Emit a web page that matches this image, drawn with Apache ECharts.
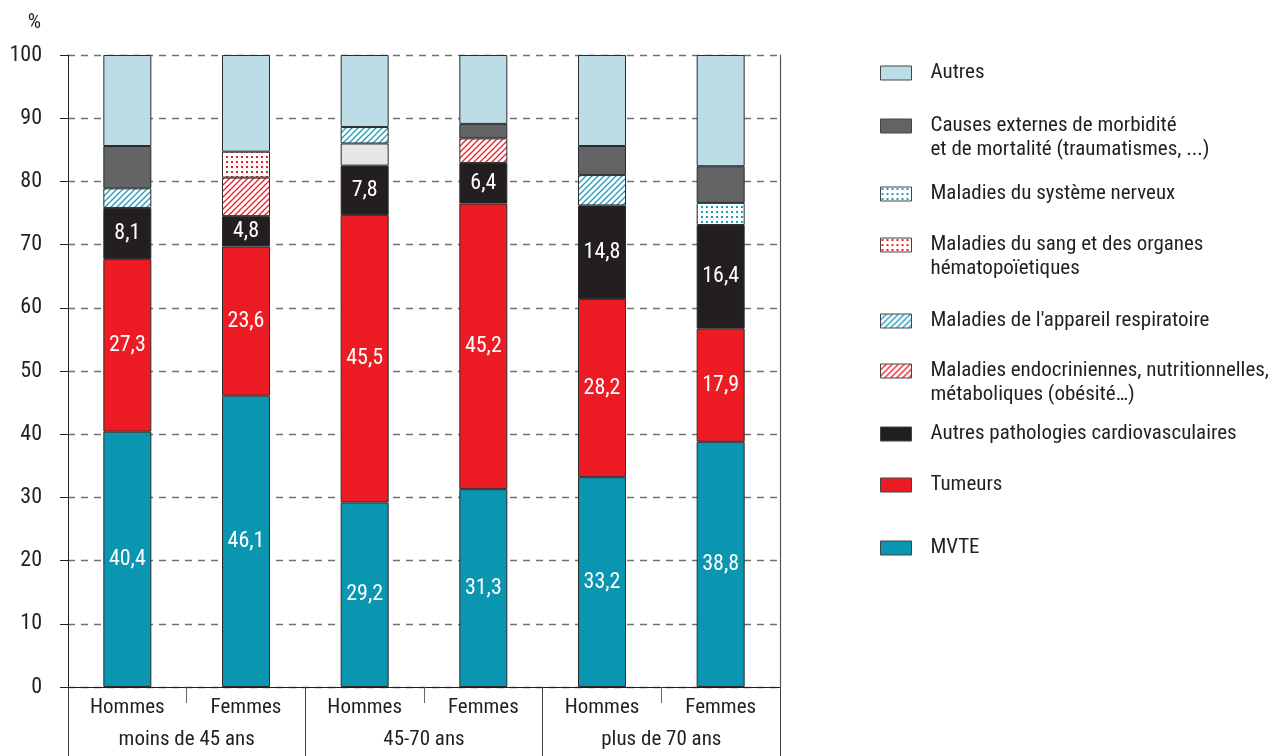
<!DOCTYPE html>
<html>
<head>
<meta charset="utf-8">
<script src="https://cdn.jsdelivr.net/npm/echarts@6/dist/echarts.min.js"></script>
<style>html,body{margin:0;padding:0;background:#fff;}#c{width:1273px;height:756px;}</style>
</head>
<body>
<div id="c"></div>
<script>
// ---- Data ----
var categories = ['Hommes', 'Femmes', 'Hommes', 'Femmes', 'Hommes', 'Femmes'];
var groups = ['moins de 45 ans', '45-70 ans', 'plus de 70 ans'];
var yTicks = [0, 10, 20, 30, 40, 50, 60, 70, 80, 90, 100];
var mvte      = [40.4, 46.1, 29.2, 31.3, 33.2, 38.8];
var tumeurs   = [27.3, 23.6, 45.5, 45.2, 28.2, 17.9];
var cardio    = [8.1, 4.8, 7.8, 6.4, 14.8, 16.4];
var endocr    = [null, 6.1, null, 3.9, null, null];
var nonLegende= [null, null, 3.5, null, null, null];
var respir    = [3.1, null, 2.6, null, 4.8, null];
var sang      = [null, 4.1, null, null, null, null];
var nerveux   = [null, null, null, null, null, 3.5];
var causes    = [6.7, null, null, 2.3, 4.6, 5.8];
var autres    = [14.4, 15.3, 11.4, 10.9, 14.4, 17.6];

var N_AUTRES = 'Autres';
var N_CAUSES = 'Causes externes de morbidité\net de mortalité (traumatismes, ...)';
var N_NERV = 'Maladies du système nerveux';
var N_SANG = 'Maladies du sang et des organes\nhématopoïetiques';
var N_RESP = "Maladies de l'appareil respiratoire";
var N_ENDO = 'Maladies endocriniennes, nutritionnelles,\nmétaboliques (obésité…)';
var N_CV = 'Autres pathologies cardiovasculaires';
var N_TUM = 'Tumeurs';
var N_MVTE = 'MVTE';

// ---- Styling ----
var FONT = "'Liberation Sans Narrow', 'Arial Narrow', 'Roboto Condensed', 'Liberation Sans', sans-serif";
var TEXT = '#231f20';
var CYAN = '#1a9cbd';
var RED = '#ed1c24';

function hatch(color) {
  var c = document.createElement('canvas');
  c.width = 6; c.height = 6;
  var g = c.getContext('2d');
  g.fillStyle = '#fff'; g.fillRect(0, 0, 6, 6);
  g.strokeStyle = color; g.lineWidth = 1.3;
  g.beginPath();
  g.moveTo(0, 6); g.lineTo(6, 0);
  g.moveTo(-3, 3); g.lineTo(3, -3);
  g.moveTo(3, 9); g.lineTo(9, 3);
  g.stroke();
  return { image: c, repeat: 'repeat' };
}
function dots(color) {
  var c = document.createElement('canvas');
  c.width = 5; c.height = 5;
  var g = c.getContext('2d');
  g.fillStyle = '#fff'; g.fillRect(0, 0, 5, 5);
  g.fillStyle = color; g.fillRect(1, 1, 2, 2);
  return { image: c, repeat: 'repeat' };
}

function fmt(p) { return p.value.toFixed(1).replace('.', ','); }

function mk(name, data, color, label) {
  var s = {
    name: name, type: 'bar', stack: 'total', data: data, barWidth: 48,
    itemStyle: { color: color, borderColor: '#2b2b2b', borderWidth: 1 },
    emphasis: { disabled: true }
  };
  if (label) {
    s.label = { show: true, position: 'inside', color: '#fff', fontSize: 22, fontFamily: FONT, formatter: fmt };
  }
  return s;
}

var series = [
  mk(N_MVTE, mvte, '#0a95b1', true),
  mk(N_TUM, tumeurs, RED, true),
  mk(N_CV, cardio, '#231f20', true),
  mk(N_ENDO, endocr, hatch(RED)),
  mk(' ', nonLegende, '#e6e7e8'),
  mk(N_RESP, respir, hatch(CYAN)),
  mk(N_SANG, sang, dots(RED)),
  mk(N_NERV, nerveux, dots(CYAN)),
  mk(N_CAUSES, causes, '#636466'),
  mk(N_AUTRES, autres, '#bcdde6')
];

var legendItems = [
  [N_AUTRES, 73, false], [N_CAUSES, 126, true], [N_NERV, 194, false],
  [N_SANG, 245, true], [N_RESP, 321, false], [N_ENDO, 371, true],
  [N_CV, 434, false], [N_TUM, 485, false], [N_MVTE, 548, false]
];
var legends = legendItems.map(function (it) {
  return {
    orient: 'vertical', left: 880, top: it[2] ? it[1] - 36 : it[1] - 12, padding: 0,
    data: [it[0]], selectedMode: false,
    itemWidth: 31, itemHeight: 14, icon: 'rect',
    itemStyle: { borderColor: '#444', borderWidth: 1 },
    formatter: function (n) { return n.indexOf('\n') >= 0 ? '\n' + n : n; },
    textStyle: { fontSize: 21, color: TEXT, fontFamily: FONT, lineHeight: 24, padding: [0, 0, 0, 14] }
  };
});

var chart = echarts.init(document.getElementById('c'), null, { renderer: 'canvas' });
chart.setOption({
  animation: false,
  backgroundColor: '#fff',
  textStyle: { fontFamily: FONT },
  legend: legends,
  grid: { left: 68, right: 493, top: 55, bottom: 69, containLabel: false },
  xAxis: [
    {
      type: 'category', data: categories, position: 'bottom',
      axisLine: { show: true, lineStyle: { color: '#231f20', width: 1 } },
      axisTick: { show: true, interval: 0, length: 16, lineStyle: { color: '#666', width: 1 } },
      axisLabel: { interval: 0, margin: 10, fontSize: 21, color: TEXT, fontFamily: FONT }
    },
    {
      type: 'category', data: groups, position: 'bottom', offset: 0,
      axisLine: { show: false },
      axisTick: { show: true, interval: 0, length: 72, lineStyle: { color: '#444', width: 1 } },
      axisLabel: { interval: 0, margin: 42, fontSize: 21, color: TEXT, fontFamily: FONT }
    }
  ],
  yAxis: [
    {
      type: 'value', min: yTicks[0], max: yTicks[yTicks.length - 1], interval: yTicks[1] - yTicks[0],
      name: '%', nameLocation: 'end', nameGap: 22,
      nameTextStyle: { fontSize: 21, color: TEXT, fontFamily: FONT, align: 'right', padding: [0, 27, 0, 0] },
      axisLine: { show: true, lineStyle: { color: '#231f20', width: 1 } },
      axisTick: { show: true, length: 8, lineStyle: { color: '#231f20' } },
      axisLabel: { margin: 26, fontSize: 22, color: TEXT, fontFamily: FONT },
      splitLine: { show: true, lineStyle: { color: '#707070', width: 1.4, type: [7, 6] } }
    },
    {
      type: 'value', min: 0, max: 100, position: 'right',
      axisLine: { show: true, lineStyle: { color: '#555', width: 1.2 } },
      axisTick: { show: false }, axisLabel: { show: false }, splitLine: { show: false }
    }
  ],
  series: series
});
</script>
</body>
</html>
